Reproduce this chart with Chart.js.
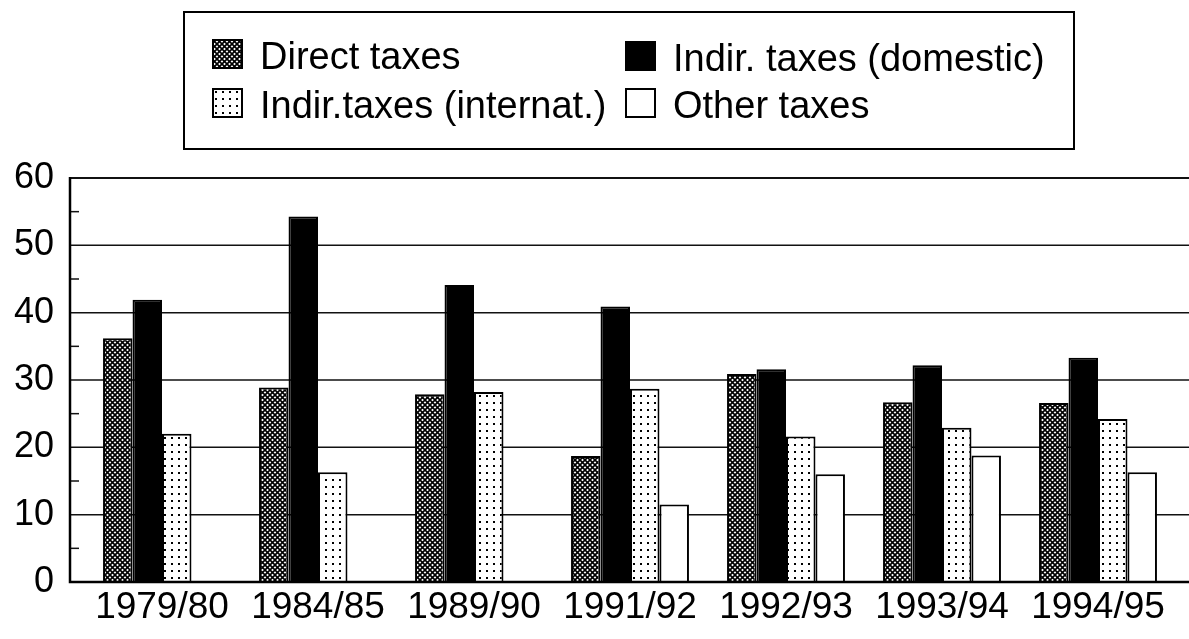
<!DOCTYPE html>
<html>
<head>
<meta charset="utf-8">
<script src="https://cdn.jsdelivr.net/npm/chart.js@4.4.0/dist/chart.umd.min.js"></script>
<style>
body { margin: 0; background: #fff; }
#wrap { position: relative; width: 1189px; height: 639px; overflow: hidden; }
#legend { position: absolute; left: 183px; top: 11px; width: 888px; height: 135px; border: 2px solid #000; }
.item { position: absolute; }
.item canvas { position: absolute; left: 0; top: 0; }
.item span { position: absolute; left: 48px; top: -2px; font: 38px "Liberation Sans", Arial, sans-serif; line-height: 38px; white-space: nowrap; color: #000; }
</style>
</head>
<body>
<div id="wrap">
  <canvas id="myChart" width="1189" height="639"></canvas>
  <div id="legend">
    <div class="item" style="left:27px;top:26px"><canvas id="sw0" width="31" height="30"></canvas><span id="lb0"></span></div>
    <div class="item" style="left:440px;top:28px"><canvas id="sw1" width="31" height="30"></canvas><span id="lb1"></span></div>
    <div class="item" style="left:27px;top:75px"><canvas id="sw2" width="31" height="30"></canvas><span id="lb2"></span></div>
    <div class="item" style="left:440px;top:75px"><canvas id="sw3" width="31" height="30"></canvas><span id="lb3"></span></div>
  </div>
</div>
<script>
const years = ['1979/80', '1984/85', '1989/90', '1991/92', '1992/93', '1993/94', '1994/95'];
const seriesNames = ['Direct taxes', 'Indir. taxes (domestic)', 'Indir.taxes (internat.)', 'Other taxes'];
const directTaxes = [36.2, 28.9, 27.9, 18.7, 30.9, 26.7, 26.6];
const indirDomestic = [41.9, 54.3, 44.1, 40.9, 31.6, 32.2, 33.3];
const indirInternat = [22.0, 16.3, 28.2, 28.7, 21.6, 22.9, 24.2];
const otherTaxes = [0, 0, 0, 11.5, 16.0, 18.8, 16.3];
const yTicks = [0, 10, 20, 30, 40, 50, 60];

const FONT = '"Liberation Sans", Arial, sans-serif';

// hatch / dot tiles
function crossTile() {
    const c = document.createElement('canvas');
    c.width = 5; c.height = 5;
    const g = c.getContext('2d');
    g.fillStyle = '#fff';
    g.fillRect(0, 0, 5, 5);
    g.strokeStyle = '#000';
    g.lineWidth = 1.6;
    g.beginPath();
    g.moveTo(-1, -1); g.lineTo(6, 6);
    g.moveTo(6, -1); g.lineTo(-1, 6);
    g.stroke();
    return c;
}
function dotTile() {
    const c = document.createElement('canvas');
    c.width = 7; c.height = 7;
    const g = c.getContext('2d');
    g.fillStyle = '#fff';
    g.fillRect(0, 0, 7, 7);
    g.fillStyle = '#000';
    g.fillRect(3, 3, 2, 2);
    return c;
}
function fills(ctx) {
    return [
        ctx.createPattern(crossTile(), 'repeat'),
        '#000',
        ctx.createPattern(dotTile(), 'repeat'),
        '#fff'
    ];
}

// legend swatches
for (let i = 0; i < 4; i++) {
    const sw = document.getElementById('sw' + i);
    const g = sw.getContext('2d');
    g.fillStyle = fills(g)[i];
    g.fillRect(0, 0, 31, 30);
    g.strokeStyle = '#000';
    g.lineWidth = 2;
    g.strokeRect(1, 1, 29, 28);
    document.getElementById('lb' + i).textContent = seriesNames[i];
}

// frame, grid lines and minor ticks reaching past the category band
const frame = {
    id: 'frame',
    beforeDatasetsDraw(chart) {
        const c = chart.ctx, y = chart.scales.y;
        c.save();
        c.strokeStyle = '#111';
        yTicks.forEach(v => {
            if (v === 0) return;
            const p = y.getPixelForValue(v);
            c.lineWidth = v === 60 ? 2 : 1.5;
            c.beginPath(); c.moveTo(70, p); c.lineTo(chart.width, p); c.stroke();
        });
        c.lineWidth = 1.5;
        for (let v = 5; v < 60; v += 10) {
            const p = y.getPixelForValue(v);
            c.beginPath(); c.moveTo(70, p); c.lineTo(79, p); c.stroke();
        }
        c.restore();
    },
    afterDatasetsDraw(chart) {
        const c = chart.ctx, y = chart.scales.y;
        const top = y.getPixelForValue(60), bot = y.getPixelForValue(0);
        c.save();
        c.strokeStyle = '#000';
        c.lineWidth = 2.5;
        c.beginPath();
        c.moveTo(70, top - 1); c.lineTo(70, bot);
        c.lineTo(chart.width, bot);
        c.stroke();
        c.restore();
    }
};

let chart;
function createTaxChart() {
    const ctx = document.getElementById('myChart');
    const f = fills(ctx.getContext('2d'));
    const values = [directTaxes, indirDomestic, indirInternat, otherTaxes];
    chart = new Chart(ctx, {
        type: 'bar',
        data: {
            labels: years,
            datasets: values.map((d, i) => ({
                label: seriesNames[i],
                data: d,
                backgroundColor: f[i],
                borderColor: '#000',
                borderWidth: 2,
                categoryPercentage: 0.756,
                barPercentage: 1.0
            }))
        },
        options: {
            responsive: false,
            animation: false,
            layout: { padding: { top: 178, right: 13, left: 0, bottom: 0 } },
            plugins: {
                legend: { display: false },
                tooltip: { enabled: false }
            },
            scales: {
                x: {
                    grid: { display: false, drawTicks: false },
                    border: { display: false },
                    ticks: { color: '#000', font: { family: FONT, size: 37 }, padding: 4, maxRotation: 0, autoSkip: false },
                    afterFit: s => { s.height = 57; }
                },
                y: {
                    min: 0,
                    max: 60,
                    grid: { display: false, drawTicks: false },
                    border: { display: false },
                    ticks: { stepSize: 10, color: '#000', font: { family: FONT, size: 36 }, padding: 30 },
                    afterFit: s => { s.width = 84; }
                }
            }
        },
        plugins: [frame]
    });
}
createTaxChart();
</script>
</body>
</html>
